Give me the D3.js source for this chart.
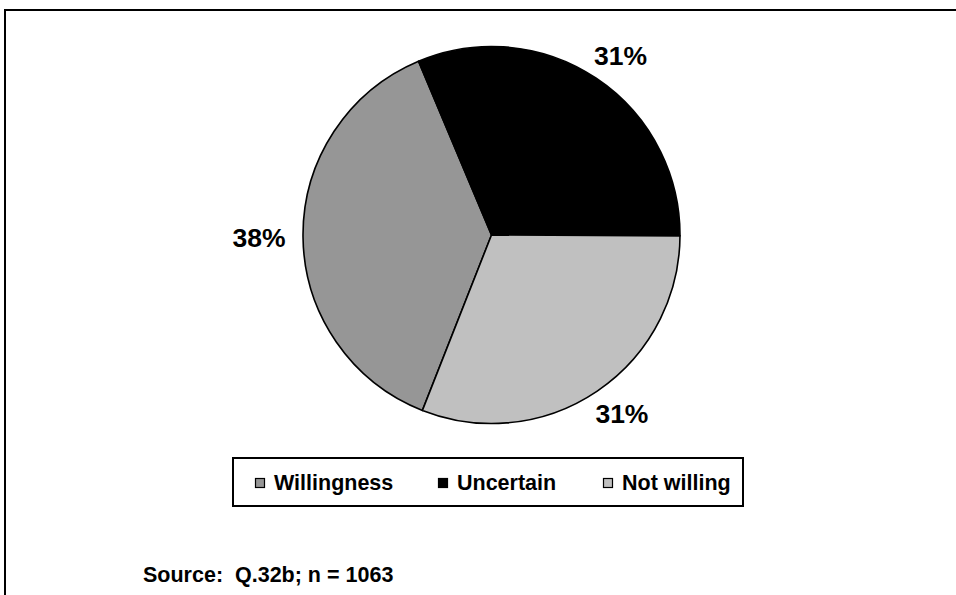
<!DOCTYPE html>
<html>
<head>
<meta charset="utf-8">
<script src="https://cdn.jsdelivr.net/npm/d3@7"></script>
<style>
  html, body { margin: 0; padding: 0; background: #fff; }
  svg { display: block; }
  text { font-family: "Liberation Sans", Arial, sans-serif; font-weight: bold; fill: #000; }
</style>
</head>
<body>
<svg id="chart" width="956" height="595"></svg>
<script>
const categories = ["Willingness", "Uncertain", "Not willing"];
const values = [37.7, 31.4, 30.9];
const colors = ["#969696", "#000000", "#C0C0C0"];
const sourceNote = "Source:  Q.32b; n = 1063";

const svg = d3.select("#chart");
const W = 956, H = 595;
const cx = 491.5, cy = 235, R = 188.5;
const startDeg = 201.5;

// outer frame (left and top edges visible)
svg.append("path")
  .attr("d", `M5,${H} L5,10 L${W},10`)
  .attr("fill", "none").attr("stroke", "#000").attr("stroke-width", 2);

const data = categories.map((c, i) => ({ name: c, value: values[i], color: colors[i] }));
const start = startDeg * Math.PI / 180;
const pie = d3.pie().sort(null).value(d => d.value)
  .startAngle(start).endAngle(start + 2 * Math.PI);
const arcs = pie(data);
const arc = d3.arc().innerRadius(0).outerRadius(R);

const g = svg.append("g").attr("transform", `translate(${cx},${cy})`);
g.selectAll("path.slice").data(arcs).enter().append("path")
  .attr("class", "slice")
  .attr("d", arc)
  .attr("fill", d => d.data.color)
  .attr("stroke", "#000").attr("stroke-width", 1.6)
  .attr("stroke-linejoin", "round");

// labels placed outside, pushed away from the pie by their own half-size
const labelR = 206, halfW = 26.5, halfH = 9.5;
const lblPos = d => {
  const a = (d.startAngle + d.endAngle) / 2;
  const s = Math.sin(a), c = -Math.cos(a);
  return [labelR * s + s * halfW, labelR * c + c * halfH];
};
g.selectAll("text.lbl").data(arcs).enter().append("text")
  .attr("class", "lbl")
  .attr("x", d => lblPos(d)[0])
  .attr("y", d => lblPos(d)[1])
  .attr("text-anchor", "middle")
  .attr("dy", "0.36em")
  .attr("font-size", 26.5)
  .text(d => Math.round(d.data.value) + "%");

// legend
const lg = svg.append("g");
lg.append("rect").attr("x", 233).attr("y", 458).attr("width", 510).attr("height", 48)
  .attr("fill", "#fff").attr("stroke", "#000").attr("stroke-width", 2);
const legendX = d3.scaleOrdinal().domain(categories).range([255, 438, 603]);
const items = lg.selectAll("g.item").data(data).enter().append("g")
  .attr("class", "item")
  .attr("transform", d => `translate(${legendX(d.name)},478)`);
items.append("rect").attr("x", 0.5).attr("y", 0.5).attr("width", 9).attr("height", 9)
  .attr("fill", d => d.color).attr("stroke", "#000").attr("stroke-width", 1.2);
items.append("text").attr("x", 19).attr("y", 12)
  .attr("font-size", 21.5)
  .text(d => d.name);

svg.append("text").attr("x", 143).attr("y", 582)
  .attr("font-size", 21.5)
  .attr("xml:space", "preserve")
  .style("white-space", "pre")
  .text(sourceNote);
</script>
</body>
</html>
